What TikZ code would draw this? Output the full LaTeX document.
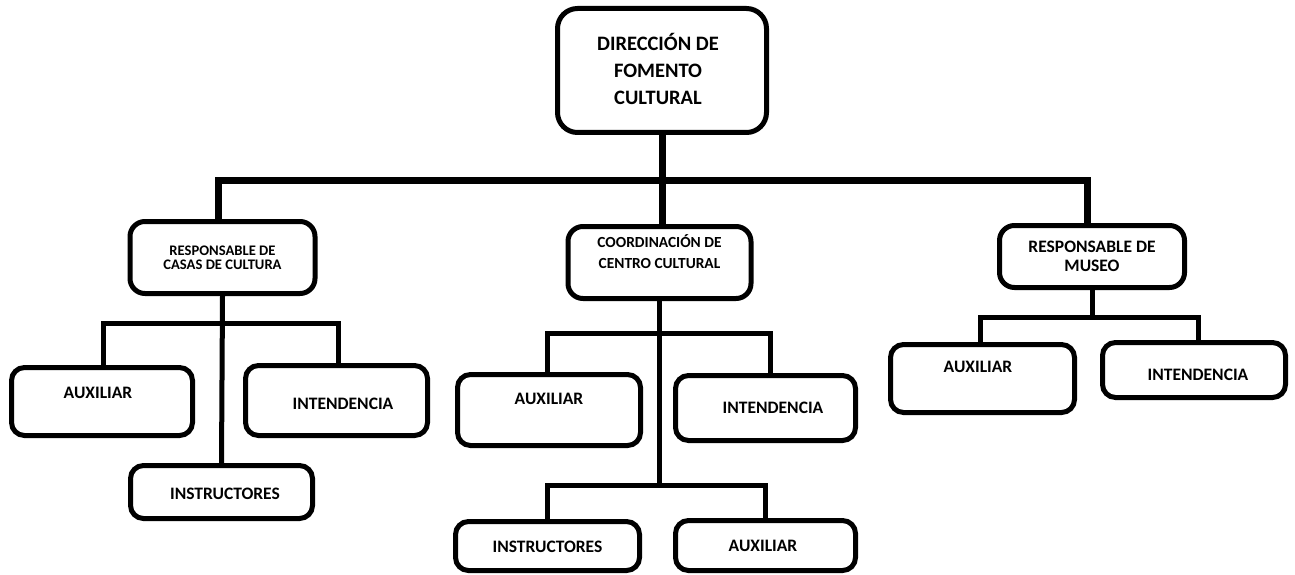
\documentclass[tikz,border=0pt]{standalone}
\usepackage{fontspec}
\setmainfont{Carlito}[BoldFont=Carlito Bold]
\usetikzlibrary{positioning}

\tikzset{
  caja/.style={draw, line width=5pt, fill=white, inner sep=0pt},
  etq/.style={font=\bfseries\fontsize{17.5}{20}\selectfont, align=center, inner sep=0pt},
  linea/.style={line width=5pt},
  tronco/.style={line width=7pt}
}

\begin{document}
\begin{tikzpicture}[x=1pt, y=-1pt]
  \useasboundingbox (0,0) rectangle (1295,575);

  % Niveles de las barras
  \coordinate (barra0) at (0,180);
  \coordinate (barra1) at (0,323);
  \coordinate (barra2) at (0,333);
  \coordinate (barra3) at (0,485);
  \coordinate (barra4) at (0,317);

  % Direccion
  \node[caja, rounded corners=20pt, minimum width=209pt, minimum height=124pt,
        label={[etq, font=\bfseries\fontsize{20.5}{27}\selectfont, xshift=-4pt, yshift=1.5pt]center:{DIRECCIÓN DE\\FOMENTO\\CULTURAL}}]
        (dir) at (662,70.5) {};

  % Segundo nivel
  \node[caja, rounded corners=15pt, minimum width=185pt, minimum height=72pt,
        label={[etq, font=\bfseries\fontsize{14.6}{14}\selectfont]center:{RESPONSABLE DE\\CASAS DE CULTURA}}]
        (casas) at (222.5,257.5) {};
  \node[caja, rounded corners=15pt, minimum width=183pt, minimum height=72pt,
        label={[etq, font=\bfseries\fontsize{15.4}{21}\selectfont, yshift=11pt]center:{COORDINACIÓN DE\\CENTRO CULTURAL}}]
        (coord) at (659.5,262.5) {};
  \node[caja, rounded corners=15pt, minimum width=185pt, minimum height=62pt,
        label={[etq, font=\bfseries\fontsize{17.5}{19}\selectfont]center:{RESPONSABLE DE\\MUSEO}}]
        (museo) at (1092,256.5) {};

  % Casas de cultura
  \node[caja, rounded corners=13pt, minimum width=181pt, minimum height=68pt,
        label={[etq, xshift=-4pt, yshift=8.5pt]center:AUXILIAR}] (auxA) at (102,401.5) {};
  \node[caja, rounded corners=13pt, minimum width=182pt, minimum height=70pt,
        label={[etq, xshift=6.5pt, yshift=-3.5pt]center:INTENDENCIA}] (intA) at (336.5,400.5) {};
  \node[caja, rounded corners=13pt, minimum width=182pt, minimum height=53pt,
        label={[etq, xshift=3.5pt, yshift=-2pt]center:INSTRUCTORES}] (insA) at (221.5,492) {};

  % Centro cultural
  \node[caja, rounded corners=13pt, minimum width=183pt, minimum height=71pt,
        label={[etq, yshift=11pt]center:AUXILIAR}] (auxB) at (549,410) {};
  \node[caja, rounded corners=13pt, minimum width=180pt, minimum height=65pt,
        label={[etq, xshift=7.5pt]center:INTENDENCIA}] (intB) at (765.5,408) {};
  \node[caja, rounded corners=13pt, minimum width=184pt, minimum height=49pt,
        label={[etq, yshift=-1pt]center:INSTRUCTORES}] (insB) at (547.5,546) {};
  \node[caja, rounded corners=13pt, minimum width=180pt, minimum height=50pt,
        label={[etq, xshift=-2.5pt]center:AUXILIAR}] (auxC) at (765.5,545.5) {};

  % Museo
  \node[caja, rounded corners=13pt, minimum width=184pt, minimum height=68pt,
        label={[etq, xshift=-4.5pt, yshift=11.5pt]center:AUXILIAR}] (auxD) at (982.5,378.5) {};
  \node[caja, rounded corners=13pt, minimum width=183pt, minimum height=55pt,
        label={[etq, xshift=4pt, yshift=-5pt]center:INTENDENCIA}] (intD) at (1194,370) {};

  % Conectores principales
  \draw[tronco] (dir.south) -- (dir.south |- coord.north);
  \draw[tronco] ([xshift=-4.5pt]casas.north) |- (dir.south |- barra0) -| ([xshift=-5pt]museo.north);

  % Conectores de casas de cultura
  \draw[linea] (casas.south) -- (insA.north);
  \draw[linea] ([xshift=1pt]auxA.north) |- (casas.south |- barra1) -| ([xshift=1.5pt]intA.north);

  % Conectores del centro cultural
  \draw[linea] (coord.south) -- (coord.south |- barra3);
  \draw[linea] ([xshift=-2pt]auxB.north) |- (coord.south |- barra2) -| ([xshift=4.5pt]intB.north);
  \draw[linea] (insB.north) |- (coord.south |- barra3) -| (auxC.north);

  % Conectores del museo
  \draw[linea] (museo.south) -- (museo.south |- barra4);
  \draw[linea] ([xshift=-2.5pt]auxD.north) |- (museo.south |- barra4) -| ([xshift=4pt]intD.north);
\end{tikzpicture}
\end{document}
